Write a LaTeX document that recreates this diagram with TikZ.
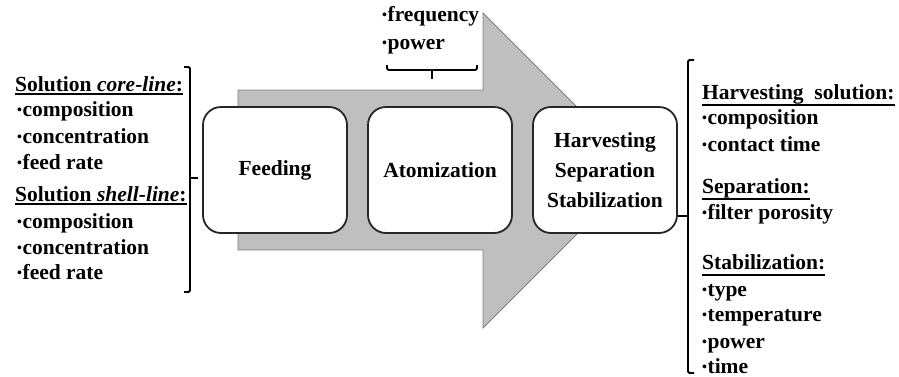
\documentclass[tikz,border=0pt]{standalone}
\usepackage{fontspec}
\setmainfont{Liberation Serif}
\usetikzlibrary{calc}
\newcommand\bl{\raisebox{0.2ex}{\fontsize{14}{14}\selectfont\textbullet}\kern0.5pt}
\definecolor{arrowfill}{HTML}{BFBFBF}
\definecolor{arrowline}{HTML}{7F7F7F}
\definecolor{boxline}{HTML}{262626}
\begin{document}
\begin{tikzpicture}[x=1pt,y=-1pt,
  txt/.style={anchor=base west,inner sep=0pt,font=\fontsize{21.5}{26}\selectfont\bfseries},
  stage/.style={draw=boxline,line width=1.8pt,fill=white,rounded corners=18pt,
     minimum width=144pt,minimum height=126pt,inner sep=2pt,align=center,
     font=\fontsize{21.5}{30}\selectfont\bfseries},
  brk/.style={line width=1.8pt,rounded corners=1.5pt},
  ulline/.style={line width=1.6pt}
]
\useasboundingbox (0,0) rectangle (899,376);
% big arrow
\path[fill=arrowfill,draw=arrowline,line width=0.8pt]
  (238,90) -- (483,90) -- (483,13) -- (640.5,170.5) -- (483,328) -- (483,250) -- (238,250) -- cycle;
% stages
\node[stage] (feed) at (275,170) {Feeding};
\node[stage] (atom) at (440,170) {Atomization};
\node[stage] (harv) at (605,170) {Harvesting\\Separation\\Stabilization};
% left texts
\node[txt] (l1) at (15,91) {Solution \textit{core-line}:};
\node[txt] (l2) at (17,116) {\bl composition};
\node[txt] (l3) at (17,143) {\bl concentration};
\node[txt] (l4) at (17,169) {\bl feed rate};
\node[txt] (l5) at (15,201) {Solution \textit{shell-line}:};
\node[txt] (l6) at (17,228) {\bl composition};
\node[txt] (l7) at (17,254) {\bl concentration};
\node[txt] (l8) at (17,279) {\bl feed rate};
\foreach \n in {l1,l5}
  \draw[ulline] ($(\n.base west)+(0,3)$) -- ($(\n.base east)+(0,3)$);
% left bracket
\coordinate (lbt) at (184,67);
\coordinate (lbb) at (184,292);
\coordinate (lbm) at (190,178);
\coordinate (lbtick) at (198,178);
\draw[brk] (lbt) -- ++(6,0) |- (lbb);
\draw[brk] (lbm) -- (lbtick);
% top texts
\node[txt] (t1) at (382,21) {\bl frequency};
\node[txt] (t2) at (382,49) {\bl power};
\coordinate (tbl) at (387,65);
\coordinate (tbr) at (477,65);
\coordinate (tbm) at (432,70);
\coordinate (tbtick) at (432,79);
\draw[brk] (tbl) |- (477,70) -- (tbr);
\draw[brk] (tbm) -- (tbtick);
% right bracket
\coordinate (rbt) at (694,60);
\coordinate (rbb) at (694,373);
\coordinate (rbm) at (688,216);
\draw[brk] (rbt) -| (688,373) -- (rbb);
\draw[brk] (rbm) -- (harv.east |- rbm);
% right texts
\node[txt] (r1) at (702,99) {Harvesting\ \ solution:};
\node[txt] (r2) at (702,124) {\bl composition};
\node[txt] (r3) at (702,151) {\bl contact time};
\node[txt] (r4) at (702,193) {Separation:};
\node[txt] (r5) at (702,219) {\bl filter porosity};
\node[txt] (r6) at (702,269) {Stabilization:};
\node[txt] (r7) at (702,296) {\bl type};
\node[txt] (r8) at (702,321) {\bl temperature};
\node[txt] (r9) at (702,348) {\bl power};
\node[txt] (r10) at (702,373) {\bl time};
\foreach \n in {r1,r4,r6}
  \draw[ulline] ($(\n.base west)+(0,6)$) -- ($(\n.base east)+(0,6)$);
\end{tikzpicture}
\end{document}
